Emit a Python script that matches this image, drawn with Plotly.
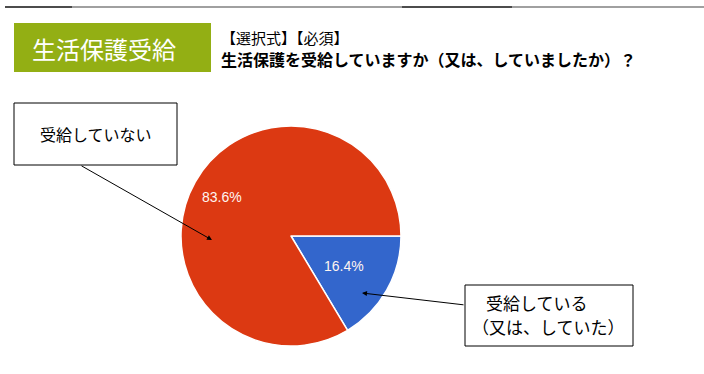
import math
import plotly.graph_objects as go

W, H = 704, 374

categories = ["受給している（又は、していた）", "受給していない"]
values = [16.4, 83.6]
colors = ["#3366CC", "#DC3912"]

header_title = "生活保護受給"
question_tag = "【選択式】【必須】"
question = "生活保護を受給していますか（又は、していましたか）？"
box_label_no = "受給していない"
box_label_yes = ["受給している", "（又は、していた）"]

FONT = "Noto Sans CJK JP, Noto Sans, sans-serif"

def px(x):
    return x / W

def py(y):
    return 1 - y / H

cx, cy, r = 291, 236, 110
label_rfrac = [0.55, 0.72]  # radial placement of the percent labels

fig = go.Figure(go.Pie(
    labels=categories,
    values=values,
    marker=dict(colors=colors, line=dict(color="white", width=1.5)),
    sort=False,
    direction="clockwise",
    rotation=90,
    textinfo="none",
    showlegend=False,
    hoverinfo="label+percent",
    domain=dict(x=[px(cx - r), px(cx + r)], y=[py(cy + r), py(cy - r)]),
))

shapes = []
segs = [(5, 72, "#111111"), (72, 402, "#808080"), (402, 512, "#111111"), (512, 704, "#808080")]
for x0, x1, c in segs:
    shapes.append(dict(type="line", xref="paper", yref="paper",
                       x0=px(x0), x1=px(x1), y0=py(7), y1=py(7),
                       line=dict(color=c, width=1.5)))
shapes.append(dict(type="rect", xref="paper", yref="paper",
                   x0=px(14), x1=px(211), y0=py(72), y1=py(23),
                   fillcolor="#93AF14", line=dict(width=0)))
shapes.append(dict(type="rect", xref="paper", yref="paper",
                   x0=px(14), x1=px(177), y0=py(165), y1=py(103),
                   fillcolor="white", line=dict(color="black", width=1)))
shapes.append(dict(type="rect", xref="paper", yref="paper",
                   x0=px(465), x1=px(633), y0=py(346), y1=py(285),
                   fillcolor="white", line=dict(color="black", width=1)))

annotations = [
    dict(text=header_title, x=px(104), y=py(48), xref="paper", yref="paper",
         showarrow=False, font=dict(color="white", size=24, family=FONT),
         xanchor="center", yanchor="middle"),
    dict(text=question_tag, x=px(219), y=py(38), xref="paper", yref="paper",
         showarrow=False, font=dict(color="black", size=15, family=FONT),
         xanchor="left", yanchor="middle"),
    dict(text="<b>" + question + "</b>", x=px(219), y=py(59), xref="paper", yref="paper",
         showarrow=False, font=dict(color="black", size=16, family=FONT),
         xanchor="left", yanchor="middle"),
    dict(text=box_label_no, x=px(96), y=py(134), xref="paper", yref="paper",
         showarrow=False, font=dict(color="black", size=16, family=FONT),
         xanchor="center", yanchor="middle"),
    dict(text=box_label_yes[0], x=px(484), y=py(302), xref="paper", yref="paper",
         showarrow=False, font=dict(color="black", size=17, family=FONT),
         xanchor="left", yanchor="middle"),
    dict(text=box_label_yes[1], x=px(470), y=py(326), xref="paper", yref="paper",
         showarrow=False, font=dict(color="black", size=17, family=FONT),
         xanchor="left", yanchor="middle"),
    dict(text="", x=px(212), y=py(240), xref="paper", yref="paper",
         showarrow=True, arrowhead=2, arrowsize=1, arrowwidth=1, arrowcolor="black",
         ax=80 - 212, ay=165 - 240, standoff=0),
    dict(text="", x=px(362), y=py(293), xref="paper", yref="paper",
         showarrow=True, arrowhead=2, arrowsize=1, arrowwidth=1, arrowcolor="black",
         ax=465 - 362, ay=305 - 293, standoff=0),
]

# percent labels placed at each slice's mid-angle (clockwise from 3 o'clock)
total = sum(values)
cum = 0.0
for v, k in zip(values, label_rfrac):
    mid = (cum + v / 2) / total
    cum += v
    ang = -2 * math.pi * mid
    lx = cx + k * r * math.cos(ang)
    ly = cy - k * r * math.sin(ang)
    annotations.append(dict(text=f"{v / total * 100:.1f}%", x=px(lx), y=py(ly),
                            xref="paper", yref="paper", showarrow=False,
                            font=dict(color="#FFF4F0", size=14,
                                      family="Arial, Liberation Sans, sans-serif"),
                            xanchor="center", yanchor="middle"))

fig.update_layout(
    width=W, height=H,
    margin=dict(l=0, r=0, t=0, b=0),
    paper_bgcolor="white", plot_bgcolor="white",
    shapes=shapes, annotations=annotations,
)

fig.write_html("out.html", config={"displayModeBar": False},
               post_script="document.body.style.margin='0';")
